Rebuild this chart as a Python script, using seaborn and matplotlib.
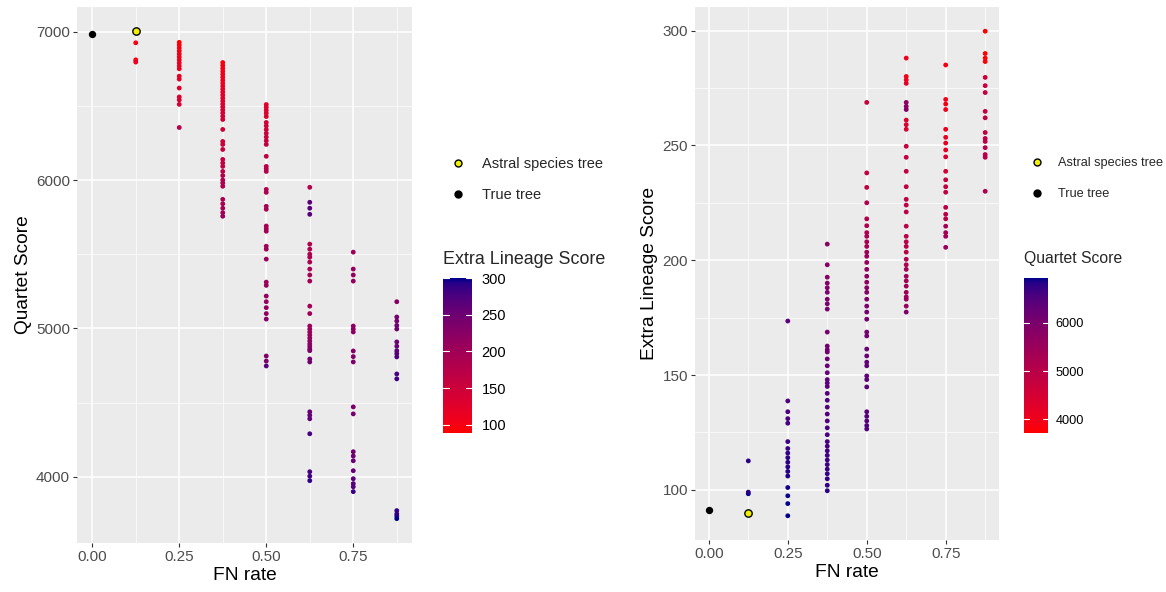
import numpy as np
import pandas as pd
import matplotlib
matplotlib.use("Agg")
import matplotlib.pyplot as plt
import seaborn as sns
from matplotlib.colors import LinearSegmentedColormap, Normalize, to_rgb
from matplotlib.cm import ScalarMappable
from matplotlib.lines import Line2D
from matplotlib.ticker import MultipleLocator

# ---------------- data ----------------
fn_levels = [0.125, 0.25, 0.375, 0.5, 0.625, 0.75, 0.875]

q_0125 = [6925, 6810, 6795]
el_0125 = [98.3, 99, 112.6]

q_025 = [6928, 6910, 6890, 6870, 6850, 6830, 6810, 6790, 6770, 6750, 6700, 6680,
         6620, 6560, 6540, 6510, 6354]
el_025 = [88.7, 94, 97.4, 101, 106, 108, 110, 112, 114, 116, 118, 121,
          129, 131, 134, 138.7, 173.5]

q_0375 = [6792, 6772, 6752, 6732, 6712, 6692, 6672, 6652, 6632, 6612, 6592, 6572,
          6552, 6532, 6512, 6492, 6472, 6452, 6430, 6408, 6341, 6260, 6240, 6206,
          6139, 6115, 6092, 6058, 6030, 6000, 5980, 5958, 5870, 5840, 5810, 5780, 5756]
el_0375 = [99.6, 102, 104.8, 107, 109, 111, 113, 115, 117, 119, 121, 124,
           127, 130, 133, 136, 139, 142, 145, 146.5, 148, 151, 154, 157,
           160, 161, 162.6, 168.7, 178.7, 181, 183, 186, 188, 190, 192.6, 198, 207]

q_05 = [6509, 6490, 6470, 6450, 6428, 6388, 6365, 6340, 6315, 6290, 6265, 6240,
        6160, 6092, 6075, 6058, 5937, 5917, 5823, 5803, 5690, 5672, 5655, 5554,
        5534, 5467, 5312, 5290, 5218, 5180, 5140, 5100, 5063, 4814, 4780, 4747]
el_05 = [126.5, 128, 130, 132, 134, 144.8, 148, 149.6, 154, 155.6, 158.3, 161.3,
         167, 168.7, 174.3, 177.4, 180, 183, 186, 188, 190.4, 193, 196, 199,
         201.7, 203.5, 206, 208, 210.4, 212, 215, 218, 225, 231.7, 238, 268.7]

q_0625 = [5951, 5850, 5810, 5769, 5568, 5534, 5500, 5480, 5447, 5400, 5360, 5319,
          5150, 5100, 5016, 4995, 4975, 4955, 4935, 4915, 4895, 4878, 4861, 4850,
          4794, 4774, 4438, 4415, 4391, 4290, 4034, 4004, 3974]
el_0625 = [177.4, 265.6, 267, 268.7, 180, 183, 184, 186, 188.7, 191, 193, 196,
           198, 200.4, 203.5, 206, 208, 210.4, 214.8, 221, 224, 226.5, 232, 238.7,
           244.8, 249.6, 257, 259, 261, 277, 278.5, 280, 288]

q_075 = [5514, 5400, 5360, 5319, 5016, 4996, 4976, 4848, 4810, 4774, 4471, 4424,
         4169, 4140, 4108, 4041, 3987, 3954, 3933, 3900]
el_075 = [205.6, 210.4, 212, 214.8, 218, 220, 223, 229.6, 232, 235, 238.7, 245,
          248, 251, 253.5, 257, 265.6, 268, 270, 285]

q_0875 = [5180, 5077, 5050, 5020, 4996, 4909, 4880, 4850, 4830, 4808, 4693, 4660,
          3772, 3750, 3735, 3718]
el_0875 = [230, 244.8, 246, 249, 251.7, 253, 255.6, 262, 264.8, 273, 276, 279.6,
           286.5, 288, 290, 299.7]

q_lists = [q_0125, q_025, q_0375, q_05, q_0625, q_075, q_0875]
el_lists = [el_0125, el_025, el_0375, el_05, el_0625, el_075, el_0875]

true_tree = {"fn": 0.0, "q": 6987, "el": 91.3}
astral_tree = {"fn": 0.125, "q": 7002, "el": 90.0}

rows = []
for fn, qs, els in zip(fn_levels, q_lists, el_lists):
    for q, el in zip(qs, els):
        rows.append({"fn": fn, "q": q, "el": el})
df = pd.DataFrame(rows)
special = pd.DataFrame([true_tree, astral_tree], index=["True tree", "Astral species tree"])

# ---------------- colour scale: red -> darkblue, interpolated in Lab like ggplot ----------------
M = np.array([[0.4124, 0.3576, 0.1805], [0.2126, 0.7152, 0.0722], [0.0193, 0.1192, 0.9505]])
WHITE = np.array([0.95047, 1.0, 1.08883])

def hex_to_lab(h):
    rgb = np.array(to_rgb(h))
    lin = np.where(rgb > 0.04045, ((rgb + 0.055) / 1.055) ** 2.4, rgb / 12.92)
    xyz = M @ lin / WHITE
    f = np.where(xyz > 0.008856, np.cbrt(xyz), 7.787 * xyz + 16 / 116)
    return np.array([116 * f[1] - 16, 500 * (f[0] - f[1]), 200 * (f[1] - f[2])])

def lab_to_rgb(lab):
    fy = (lab[0] + 16) / 116
    f = np.array([fy + lab[1] / 500, fy, fy - lab[2] / 200])
    xyz = np.where(f ** 3 > 0.008856, f ** 3, (f - 16 / 116) / 7.787) * WHITE
    lin = np.clip(np.linalg.solve(M, xyz), 0, None)
    rgb = np.where(lin > 0.0031308, 1.055 * lin ** (1 / 2.4) - 0.055, 12.92 * lin)
    return np.clip(rgb, 0, 1)

lo, hi = hex_to_lab("#FF0000"), hex_to_lab("#00008B")
cmap = LinearSegmentedColormap.from_list(
    "red_darkblue", [lab_to_rgb(lo + t * (hi - lo)) for t in np.linspace(0, 1, 40)])

# ---------------- style ----------------
sns.set_theme(style="darkgrid", rc={"axes.facecolor": "#EBEBEB", "grid.color": "white",
                                    "figure.facecolor": "white"})
plt.rcParams["font.family"] = ["Liberation Sans", "DejaVu Sans"]

W, H = 1166, 592
fig = plt.figure(figsize=(W / 100, H / 100), dpi=100)
ax1 = fig.add_axes([77 / W, 1 - 543 / H, 335 / W, 536 / H])
ax2 = fig.add_axes([695 / W, 1 - 540 / H, 304 / W, 533 / H])

el_norm = Normalize(df["el"].min(), df["el"].max())
q_norm = Normalize(df["q"].min(), df["q"].max())

sns.scatterplot(data=df, x="fn", y="q", hue="el", palette=cmap, hue_norm=el_norm,
                s=12, linewidth=0, legend=False, ax=ax1, zorder=3)
sns.scatterplot(data=df, x="fn", y="el", hue="q", palette=cmap, hue_norm=q_norm,
                s=12, linewidth=0, legend=False, ax=ax2, zorder=3)

for ax, ycol in [(ax1, "q"), (ax2, "el")]:
    t = special.loc["True tree"]
    a = special.loc["Astral species tree"]
    ax.scatter(t["fn"], t[ycol], s=28, color="black", linewidth=0, zorder=4)
    ax.scatter(a["fn"], a[ycol], s=28, color="#F0F000", edgecolor="black", linewidth=1, zorder=4)

def style_axis(ax, yticks, yminor, ylabel):
    ax.set_xticks([0, 0.25, 0.5, 0.75])
    ax.set_xticklabels(["0.00", "0.25", "0.50", "0.75"])
    ax.xaxis.set_minor_locator(MultipleLocator(0.125))
    ax.set_yticks(yticks)
    ax.yaxis.set_minor_locator(MultipleLocator(yminor))
    ax.grid(which="major", color="white", linewidth=1.1)
    ax.grid(which="minor", color="white", linewidth=0.5)
    ax.tick_params(which="major", length=3, width=0.8, color="#333333",
                   labelcolor="#4D4D4D", labelsize=11, pad=2, bottom=True, left=True)
    ax.tick_params(which="minor", length=0)
    for s in ax.spines.values():
        s.set_visible(False)
    ax.set_xlabel("FN rate", fontsize=13.8, color="black", labelpad=2)
    ax.set_ylabel(ylabel, fontsize=13.8, color="black", labelpad=3)

style_axis(ax1, [4000, 5000, 6000, 7000], 500, "Quartet Score")
style_axis(ax2, [100, 150, 200, 250, 300], 25, "Extra Lineage Score")

# ---------------- legends ----------------
handles = [Line2D([], [], linestyle="none", marker="o", markersize=5,
                  markerfacecolor="#F0F000", markeredgecolor="black", markeredgewidth=1),
           Line2D([], [], linestyle="none", marker="o", markersize=5,
                  markerfacecolor="black", markeredgecolor="black")]
labels = ["Astral species tree", "True tree"]

def add_legends(x0, y0, cbar_x, cbar_w, title, norm, ticks, fs, title_fs, pad, spacing):
    fig.legend(handles, labels, loc="upper left", bbox_to_anchor=(x0 / W, 1 - y0 / H),
               frameon=False, fontsize=fs, borderpad=0, borderaxespad=0,
               handlelength=1.0, handletextpad=1.1, labelspacing=spacing)
    fig.text(cbar_x / W, 1 - 259 / H, title, fontsize=title_fs, va="center", ha="left")
    cax = fig.add_axes([cbar_x / W, 1 - 433 / H, cbar_w / W, 155 / H])
    cb = fig.colorbar(ScalarMappable(norm=norm, cmap=cmap), cax=cax)
    cb.outline.set_visible(False)
    cb.set_ticks(ticks)
    cax.tick_params(length=0, labelsize=fs, labelcolor="black", pad=pad)
    cax.grid(False)
    for v in ticks:
        cax.axhline(v, xmin=0, xmax=0.2, color="white", linewidth=0.8)
        cax.axhline(v, xmin=0.8, xmax=1, color="white", linewidth=0.8)

add_legends(451, 157, 443, 29, "Extra Lineage Score", el_norm, [100, 150, 200, 250, 300],
            10.5, 12.9, 7, 1.2)
add_legends(1031, 157, 1024, 24, "Quartet Score", q_norm, [4000, 5000, 6000],
            9.2, 11.3, 5.5, 1.5)

fig.savefig("out.png", dpi=100)
